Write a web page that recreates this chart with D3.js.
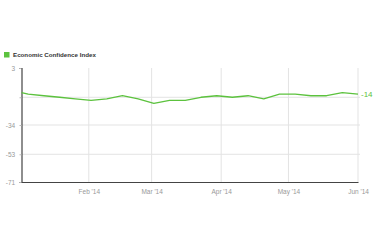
<!DOCTYPE html>
<html>
<head>
<meta charset="utf-8">
<script src="https://cdn.jsdelivr.net/npm/d3@7"></script>
<style>
  html, body { margin: 0; padding: 0; background: #fff; }
  svg { display: block; font-family: "Liberation Sans", Arial, sans-serif; }
</style>
</head>
<body>
<svg id="chart"></svg>
<script>
const seriesName = 'Economic Confidence Index';
const dates = ['2014-01-02', '2014-01-05', '2014-01-12', '2014-01-19', '2014-01-26',
    '2014-02-02', '2014-02-09', '2014-02-16', '2014-02-23', '2014-03-02', '2014-03-09',
    '2014-03-16', '2014-03-23', '2014-03-30', '2014-04-06', '2014-04-13', '2014-04-20',
    '2014-04-27', '2014-05-04', '2014-05-11', '2014-05-18', '2014-05-25', '2014-06-01'];
const values = [-13, -14, -15, -16, -17, -18, -17, -15, -17, -20, -18, -18, -16, -15,
    -16, -15, -17, -14, -14, -15, -15, -13, -14];
const yTicks = [3, -16, -34, -53, -71];
const yTickLabels = ['3', '', '-34', '-53', '-71'];
const xTicks = ['2014-02-01', '2014-03-01', '2014-04-01', '2014-05-01', '2014-06-01'];
const xTickLabels = ["Feb '14", "Mar '14", "Apr '14", "May '14", "Jun '14"];

const W = 377, H = 252;
const margin = { top: 68, right: 19, bottom: 70, left: 21.5 };
const width = W - margin.left - margin.right;
const height = H - margin.top - margin.bottom;
const green = '#5cc23e';
const parse = d3.timeParse('%Y-%m-%d');

const data = dates.map((d, i) => ({ date: parse(d), value: values[i] }));

const root = d3.select('#chart').attr('width', W).attr('height', H);

// Legend
root.append('rect').attr('x', 4).attr('y', 52).attr('width', 5.5).attr('height', 5.5).attr('fill', green);
root.append('text').attr('x', 13).attr('y', 57.2)
    .attr('font-size', '6.2px').attr('font-weight', 'bold').attr('fill', '#333')
    .text(seriesName);

const svg = root.append('g').attr('transform', `translate(${margin.left},${margin.top})`);

const x = d3.scaleTime().domain(d3.extent(data, d => d.date)).range([0, width]);
const y = d3.scaleLinear().domain([-71, 3]).range([height, 0]);

// Grid
svg.append('g')
    .selectAll('line.hg')
    .data(yTicks.slice(1, -1))
    .enter().append('line')
    .attr('x1', 0).attr('x2', width + 2)
    .attr('y1', d => y(d)).attr('y2', d => y(d))
    .attr('stroke', '#e3e3e3').attr('stroke-width', 1);

svg.append('g')
    .selectAll('line.vg')
    .data(xTicks.map(parse))
    .enter().append('line')
    .attr('x1', d => x(d)).attr('x2', d => x(d))
    .attr('y1', 0).attr('y2', height)
    .attr('stroke', '#e3e3e3').attr('stroke-width', 1);

// Axes
const yAxis = svg.append('g')
    .call(d3.axisLeft(y).tickValues(yTicks).tickSize(2).tickFormat((d, i) => yTickLabels[i]));
yAxis.select('.domain').attr('stroke', '#444').attr('stroke-width', 1.2);
yAxis.selectAll('.tick line').attr('stroke', '#bbb');
yAxis.selectAll('.tick text').attr('fill', '#999').attr('font-size', '6.5px')
    .attr('font-family', '"Liberation Sans", Arial, sans-serif').attr('dx', '-0.2em');

const xAxis = svg.append('g').attr('transform', `translate(0,${height})`)
    .call(d3.axisBottom(x).tickValues(xTicks.map(parse)).tickSize(0).tickPadding(7)
        .tickFormat((d, i) => xTickLabels[i]));
xAxis.select('.domain').attr('stroke', '#444').attr('stroke-width', 1.2);
xAxis.selectAll('.tick text').attr('fill', '#999').attr('font-size', '6.5px')
    .attr('font-family', '"Liberation Sans", Arial, sans-serif');

// Line
svg.append('path')
    .datum(data)
    .attr('fill', 'none')
    .attr('stroke', green)
    .attr('stroke-width', 1.3)
    .attr('stroke-linejoin', 'round')
    .attr('d', d3.line().x(d => x(d.date)).y(d => y(d.value)));

// End label
const last = data[data.length - 1];
svg.append('text')
    .attr('x', x(last.date) + 3).attr('y', y(last.value))
    .attr('dy', '0.35em')
    .attr('font-size', '8px').attr('fill', green)
    .text(last.value);
</script>
</body>
</html>
